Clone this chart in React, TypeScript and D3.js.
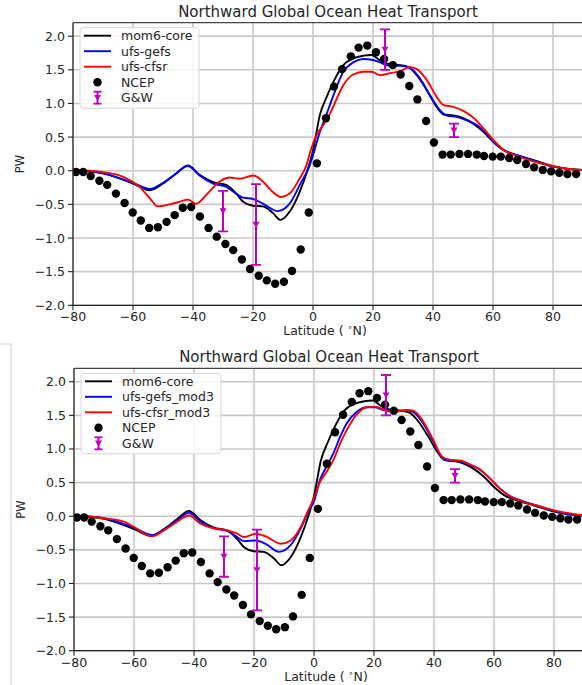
import React from "react";
import * as d3 from "d3";

const X_TICKS = [-80, -60, -40, -20, 0, 20, 40, 60, 80];
const Y_TICKS = [-2.0, -1.5, -1.0, -0.5, 0.0, 0.5, 1.0, 1.5, 2.0];
const TITLE = "Northward Global Ocean Heat Transport";

const MOM6_LAT = [-80, -70, -60, -54.4, -50, -45.6, -41.7, -37.8, -33.3, -28.9, -25.6, -23.3, -20, -16.7, -13.3, -10.9, -7.8, -4.4, -1.7, 0, 2.3, 4.6, 6.8, 10.1, 13.4, 16.8, 19.6, 22.3, 25.7, 29, 31.8, 34.6, 37.9, 41.2, 43.4, 46.8, 50.1, 53.4, 56.8, 60.1, 63.5, 67.9, 73.4, 79, 84.6, 90];
const MOM6_CORE = [0.01, -0.04, -0.19, -0.29, -0.19, -0.04, 0.08, -0.06, -0.17, -0.21, -0.34, -0.46, -0.52, -0.53, -0.63, -0.73, -0.61, -0.31, 0.03, 0.3, 0.83, 1.10, 1.32, 1.57, 1.67, 1.71, 1.72, 1.64, 1.58, 1.57, 1.54, 1.42, 1.20, 0.95, 0.84, 0.82, 0.78, 0.70, 0.58, 0.43, 0.31, 0.23, 0.16, 0.08, 0.03, 0.01];

const GEFS_LAT = [-80, -70, -60, -54.4, -50, -45.6, -41.7, -37.8, -33.3, -28.9, -25.6, -23.3, -20, -16.7, -11.7, -7.8, -4.4, -1.1, 0, 2.3, 4.6, 6.8, 10.1, 13.4, 16.8, 19.6, 22.3, 25.7, 29, 32.3, 35.7, 39, 42.3, 44.6, 47.9, 51.2, 54.6, 57.9, 61.2, 64.6, 69, 74.6, 80.1, 90];
const UFS_GEFS = [0.01, -0.04, -0.18, -0.27, -0.18, -0.04, 0.07, -0.07, -0.19, -0.24, -0.34, -0.40, -0.42, -0.49, -0.60, -0.49, -0.21, 0.08, 0.23, 0.58, 0.85, 1.12, 1.47, 1.61, 1.66, 1.65, 1.61, 1.56, 1.56, 1.53, 1.37, 1.12, 0.90, 0.82, 0.80, 0.75, 0.68, 0.55, 0.38, 0.28, 0.22, 0.13, 0.06, 0.01];

const CFSR_LAT = [-80, -70, -63.3, -57.8, -54.4, -51.7, -47.8, -44.4, -41.7, -38.9, -35.6, -31.1, -27.8, -24.4, -20, -16.7, -13.3, -10.6, -7.8, -4.4, -2.2, -0.8, 1.2, 3.4, 5.7, 7.9, 10.1, 13.4, 16.8, 19.6, 22.3, 25.7, 29, 32.3, 34.6, 37.9, 41.2, 43.4, 46.8, 50.1, 53.4, 56.8, 60.1, 63.5, 67.9, 73.4, 79, 84.6, 90];
const UFS_CFSR = [0.01, -0.02, -0.09, -0.24, -0.41, -0.53, -0.50, -0.46, -0.43, -0.49, -0.36, -0.16, -0.10, -0.12, -0.07, -0.16, -0.32, -0.39, -0.34, -0.11, 0.08, 0.30, 0.53, 0.68, 0.85, 1.07, 1.27, 1.43, 1.47, 1.47, 1.42, 1.45, 1.48, 1.54, 1.51, 1.35, 1.10, 0.98, 0.95, 0.89, 0.79, 0.63, 0.46, 0.31, 0.22, 0.14, 0.08, 0.03, 0.01];

const GEFS3_LAT = [-80, -70, -60, -53.9, -50, -45.6, -41.7, -37.8, -33.3, -28.9, -25.6, -23.3, -19.4, -16.1, -11.7, -7.8, -4.4, -1.7, 0, 2, 4.2, 6.4, 8.7, 10.9, 14.2, 17.6, 20.3, 23.1, 26.4, 30.9, 33.1, 36.4, 39.8, 42.6, 45.3, 48.7, 52, 55.3, 58.7, 62, 65.3, 68.7, 74.2, 79.8, 90];
const UFS_GEFS_MOD3 = [0.01, -0.03, -0.17, -0.28, -0.20, -0.06, 0.05, -0.08, -0.18, -0.22, -0.31, -0.37, -0.36, -0.41, -0.53, -0.43, -0.18, 0.09, 0.22, 0.54, 0.74, 0.93, 1.18, 1.38, 1.55, 1.62, 1.62, 1.58, 1.57, 1.57, 1.55, 1.38, 1.11, 0.87, 0.82, 0.82, 0.76, 0.69, 0.56, 0.41, 0.30, 0.24, 0.16, 0.08, 0.0];

const CFSR3_LAT = [-80, -70, -63.3, -60, -53.9, -50, -45.6, -41.7, -37.8, -33.3, -28.9, -25.6, -23.3, -19.4, -16.1, -11.1, -7.8, -4.4, -2.2, 0, 2, 4.2, 6.4, 8.7, 10.9, 14.2, 17.6, 20.3, 23.1, 26.4, 30.9, 33.1, 36.4, 39.8, 42.6, 45.3, 48.7, 52, 55.3, 58.7, 62, 65.3, 68.7, 74.2, 79.8, 90];
const UFS_CFSR_MOD3 = [0.01, -0.03, -0.08, -0.16, -0.30, -0.21, -0.08, 0.01, -0.11, -0.18, -0.21, -0.26, -0.31, -0.26, -0.30, -0.41, -0.36, -0.16, 0.06, 0.27, 0.51, 0.66, 0.83, 1.08, 1.28, 1.51, 1.62, 1.63, 1.59, 1.55, 1.58, 1.57, 1.41, 1.13, 0.89, 0.84, 0.83, 0.77, 0.70, 0.56, 0.41, 0.30, 0.23, 0.16, 0.09, 0.01];

const NCEP_LAT = [-79, -76.6, -74.1, -71.2, -68.6, -65.7, -62.8, -60.1, -57.4, -54.6, -51.7, -48.8, -46.1, -43.4, -40.6, -37.7, -34.8, -32.1, -29.2, -26.6, -23.7, -21, -18.1, -15.4, -12.6, -9.7, -7, -4.1, -1.4, 1.3, 4.3, 7, 9.7, 12.6, 15.2, 18.1, 21, 23.7, 26.6, 29.2, 32.1, 34.8, 37.7, 40.3, 43.2, 45.9, 48.8, 51.7, 54.6, 57, 59.9, 62.6, 65.4, 68.1, 71, 73.7, 76.6, 79.4, 82.1, 84.8, 87.7];
const NCEP = [-0.02, -0.02, -0.08, -0.15, -0.21, -0.34, -0.48, -0.62, -0.74, -0.85, -0.84, -0.76, -0.66, -0.55, -0.54, -0.68, -0.85, -0.98, -1.09, -1.18, -1.32, -1.46, -1.56, -1.63, -1.68, -1.65, -1.49, -1.17, -0.62, 0.11, 0.78, 1.25, 1.51, 1.70, 1.83, 1.86, 1.76, 1.66, 1.57, 1.43, 1.26, 1.06, 0.74, 0.42, 0.24, 0.24, 0.25, 0.25, 0.24, 0.22, 0.21, 0.21, 0.19, 0.16, 0.10, 0.05, 0.01, -0.01, -0.03, -0.05, -0.05];

const GW_LAT = [-30, -19, 24, 47];
const GW = [-0.6, -0.8, 1.8, 0.6];
const GW_ERR = [0.3, 0.6, 0.3, 0.1];

const FONT = "DejaVu Sans, sans-serif";
const TXT = "#262626";
const MAG = "#bf00bf";

type Series = { label: string; color: string; lat: number[]; val: number[] };

function Panel(props: { id: string; left: number; top: number; right: number; bottom: number; series: Series[]; legendW: number }) {
  const { id, left, top, right, bottom, series, legendW } = props;
  const x = d3.scaleLinear().domain([-80, 90]).range([left, right]);
  const y = d3.scaleLinear().domain([-2, 2.2]).range([bottom, top]);
  const line = d3.line<[number, number]>().x((d) => x(d[0])).y((d) => y(d[1])).curve(d3.curveMonotoneX);
  const tri = (cx: number, cy: number, s: number) => `M${cx - s},${cy - s * 0.8}L${cx + s},${cy - s * 0.8}L${cx},${cy + s * 0.9}Z`;
  const lx = left + 7;
  const ly = top + 5;
  const rowH = 15.5;
  const rows = [...series.map((s) => s.label), "NCEP", "G&W"];
  return (
    <g>
      <defs>
        <clipPath id={id}>
          <rect x={left} y={top} width={right - left} height={bottom - top} />
        </clipPath>
      </defs>
      {X_TICKS.map((t) => (
        <line key={"gx" + t} x1={x(t)} x2={x(t)} y1={top} y2={bottom} stroke="#c9c9c9" strokeWidth={1.6} />
      ))}
      {Y_TICKS.map((t) => (
        <line key={"gy" + t} x1={left} x2={right} y1={y(t)} y2={y(t)} stroke="#c9c9c9" strokeWidth={1.6} />
      ))}
      <g clipPath={`url(#${id})`}>
        {series.map((s) => (
          <path key={s.label} d={line(s.lat.map((l, i) => [l, s.val[i]] as [number, number])) || ""} fill="none" stroke={s.color} strokeWidth={1.9} />
        ))}
        {NCEP_LAT.map((l, i) => (
          <circle key={"n" + i} cx={x(l)} cy={y(NCEP[i])} r={4.2} fill="#000" />
        ))}
        {GW_LAT.map((l, i) => {
          const cx = x(l);
          const y0 = y(GW[i] + GW_ERR[i]);
          const y1 = y(GW[i] - GW_ERR[i]);
          return (
            <g key={"g" + i}>
              <line x1={cx} x2={cx} y1={y0} y2={y1} stroke={MAG} strokeWidth={2} />
              <line x1={cx - 5} x2={cx + 5} y1={y0} y2={y0} stroke={MAG} strokeWidth={1.8} />
              <line x1={cx - 5} x2={cx + 5} y1={y1} y2={y1} stroke={MAG} strokeWidth={1.8} />
              <path d={tri(cx, y(GW[i]), 3.5)} fill={MAG} />
            </g>
          );
        })}
      </g>
      <line x1={left} x2={left} y1={top} y2={bottom} stroke="#222" strokeWidth={1.2} />
      <line x1={left} x2={right} y1={bottom} y2={bottom} stroke="#222" strokeWidth={1.2} />
      <line x1={left} x2={right} y1={top} y2={top} stroke="#444" strokeWidth={1.2} />
      <line x1={right} x2={right} y1={top} y2={bottom} stroke="#444" strokeWidth={1.2} />
      {X_TICKS.map((t) => (
        <g key={"tx" + t}>
          <line x1={x(t)} x2={x(t)} y1={bottom} y2={bottom + 5} stroke="#222" strokeWidth={1.1} />
          <text x={x(t)} y={bottom + 16} textAnchor="middle" fontSize={12.5} fontFamily={FONT} fill={TXT}>
            {t < 0 ? "\u2212" + Math.abs(t) : String(t)}
          </text>
        </g>
      ))}
      {Y_TICKS.map((t) => (
        <g key={"ty" + t}>
          <line x1={left - 5} x2={left} y1={y(t)} y2={y(t)} stroke="#222" strokeWidth={1.1} />
          <text x={left - 8} y={y(t) + 4.5} textAnchor="end" fontSize={12.5} fontFamily={FONT} fill={TXT}>
            {t < 0 ? "\u2212" + Math.abs(t).toFixed(1) : t.toFixed(1)}
          </text>
        </g>
      ))}
      <text x={(left + right) / 2} y={top - 6} textAnchor="middle" fontSize={15} fontFamily={FONT} fill={TXT}>
        {TITLE}
      </text>
      <text x={(left + right) / 2 - 3} y={bottom + 30} textAnchor="middle" fontSize={12.5} fontFamily={FONT} fill={TXT}>
        {"Latitude ( "}
        <tspan fontSize={8} dy={-5}>{"\u2218"}</tspan>
        <tspan dy={5}>{"N)"}</tspan>
      </text>
      <text transform={`translate(${left - 49},${(top + bottom) / 2}) rotate(-90)`} textAnchor="middle" fontSize={11.5} fontFamily={FONT} fill={TXT}>
        PW
      </text>
      <g>
        <rect x={lx} y={ly} width={legendW} height={rowH * 5 + 3} rx={3} fill="#fff" fillOpacity={0.85} stroke="#d6d6d6" strokeWidth={1} />
        {rows.map((r, i) => {
          const cy = ly + 8 + i * rowH;
          return (
            <g key={"lg" + r}>
              {i < 3 && <line x1={lx + 4} x2={lx + 31} y1={cy} y2={cy} stroke={series[i].color} strokeWidth={1.9} />}
              {i === 3 && <circle cx={lx + 17.5} cy={cy} r={4.2} fill="#000" />}
              {i === 4 && (
                <g>
                  <line x1={lx + 17.5} x2={lx + 17.5} y1={cy - 6} y2={cy + 6} stroke={MAG} strokeWidth={2} />
                  <line x1={lx + 13.5} x2={lx + 21.5} y1={cy - 6} y2={cy - 6} stroke={MAG} strokeWidth={1.8} />
                  <line x1={lx + 13.5} x2={lx + 21.5} y1={cy + 6} y2={cy + 6} stroke={MAG} strokeWidth={1.8} />
                  <path d={tri(lx + 17.5, cy, 3.5)} fill={MAG} />
                </g>
              )}
              <text x={lx + 41} y={cy + 4.5} fontSize={12.5} fontFamily={FONT} fill={TXT}>
                {r}
              </text>
            </g>
          );
        })}
      </g>
    </g>
  );
}

export default function App() {
  const topSeries: Series[] = [
    { label: "mom6-core", color: "#000000", lat: MOM6_LAT, val: MOM6_CORE },
    { label: "ufs-gefs", color: "#0000ff", lat: GEFS_LAT, val: UFS_GEFS },
    { label: "ufs-cfsr", color: "#ff0000", lat: CFSR_LAT, val: UFS_CFSR },
  ];
  const botSeries: Series[] = [
    { label: "mom6-core", color: "#000000", lat: MOM6_LAT, val: MOM6_CORE },
    { label: "ufs-gefs_mod3", color: "#0000ff", lat: GEFS3_LAT, val: UFS_GEFS_MOD3 },
    { label: "ufs-cfsr_mod3", color: "#ff0000", lat: CFSR3_LAT, val: UFS_CFSR_MOD3 },
  ];
  return (
    <div style={{ position: "fixed", left: 0, top: 0 }}>
      <svg width={582} height={685} style={{ display: "block", background: "#fff" }}>
        <rect x={0} y={0} width={582} height={685} fill="#fff" />
        <Panel id="clipTop" left={73} top={22.7} right={583} bottom={305.3} series={topSeries} legendW={119} />
        <Panel id="clipBot" left={74} top={368.3} right={584} bottom={650.7} series={botSeries} legendW={140} />
        <line x1={0} x2={11} y1={344} y2={344} stroke="#cfcfcf" strokeWidth={1} />
        <line x1={11} x2={11} y1={344} y2={685} stroke="#cfcfcf" strokeWidth={1} />
      </svg>
    </div>
  );
}
